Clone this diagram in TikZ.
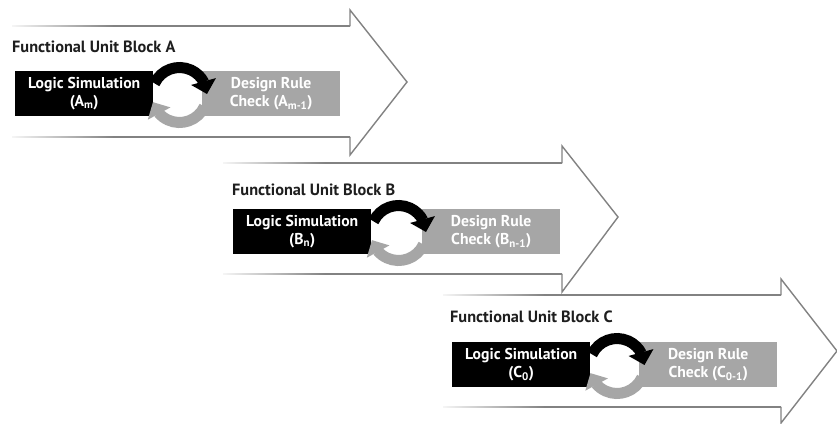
\documentclass[tikz,border=0pt]{standalone}
\usepackage{fontspec}
\setmainfont{PT Sans}
\newfontfamily\dinlike{PT Sans Bold}
\usetikzlibrary{arrows.meta,bending}
\definecolor{linegray}{RGB}{130,130,130}
\definecolor{boxgray}{RGB}{166,166,166}
\definecolor{titlecol}{RGB}{30,30,30}
\pgfdeclarehorizontalshading{fadeline}{100bp}{color(0bp)=(white); color(25bp)=(linegray!8); color(40bp)=(linegray); color(100bp)=(linegray)}
\tikzset{
  headline/.style={draw=linegray, line width=1.4pt, line join=miter},
  shaftline/.style={shading=fadeline},
  lsbox/.style={fill=black, text=white, minimum width=138pt, minimum height=45pt, anchor=north west, align=center, inner sep=0pt, font=\dinlike\fontsize{15.7}{18}\selectfont},
  drcbox/.style={fill=boxgray, text=white, minimum width=138pt, minimum height=45pt, anchor=north west, align=center, inner sep=0pt, font=\dinlike\fontsize{15.7}{18}\selectfont},
  fubtitle/.style={text=titlecol, anchor=base west, inner sep=0pt, font=\dinlike\fontsize{16.3}{18}\selectfont},
  cycblack/.style={draw=black, line width=11pt, -{Triangle[length=13pt, width=25pt, flex]}},
  cycgray/.style={draw=boxgray, line width=11pt, -{Triangle[length=13pt, width=25pt, flex]}},
}
\begin{document}
\begin{tikzpicture}[x=1pt, y=1pt]
\useasboundingbox (0,0) rectangle (837,-423);
\fill[white] (0,0) rectangle (837,-423);

% ---------- Block A ----------
\shade[shaftline] (12,-25.3) rectangle (350,-26.7);
\shade[shaftline] (12,-136.3) rectangle (350,-137.7);
\draw[headline] (350,-26) -- (350,-10) -- (407,-82) -- (350,-155) -- (350,-137);
\node[fubtitle] (tA) at (12,-52) {Functional Unit Block A};
\node[lsbox] (lsA) at (15,-71) {Logic Simulation\\(A\textsubscript{m})};
\node[drcbox] (drA) at (202,-71) {Design Rule\\Check (A\textsubscript{m-1})};
\coordinate (cA) at (179.5,-95);
\draw[cycblack] ([shift={(155:27.5)}]cA) arc[start angle=155, end angle=2, radius=27.5];
\draw[cycgray] ([shift={(-25:27.5)}]cA) arc[start angle=-25, end angle=-165, radius=27.5];

% ---------- Block B ----------
\shade[shaftline] (223,-162.3) rectangle (562,-163.7);
\shade[shaftline] (223,-273.3) rectangle (562,-274.7);
\draw[headline] (562,-163) -- (562,-146) -- (618,-217) -- (562,-292) -- (562,-274);
\node[fubtitle] (tB) at (232,-195) {Functional Unit Block B};
\node[lsbox] (lsB) at (233,-209) {Logic Simulation\\(B\textsubscript{n})};
\node[drcbox] (drB) at (422,-209) {Design Rule\\Check (B\textsubscript{n-1})};
\coordinate (cB) at (398.5,-233);
\draw[cycblack] ([shift={(155:27.5)}]cB) arc[start angle=155, end angle=2, radius=27.5];
\draw[cycgray] ([shift={(-25:27.5)}]cB) arc[start angle=-25, end angle=-165, radius=27.5];

% ---------- Block C ----------
\shade[shaftline] (443,-294.3) rectangle (781,-295.7);
\shade[shaftline] (443,-406.3) rectangle (781,-407.7);
\draw[headline] (781,-295) -- (781,-279) -- (837,-351) -- (781,-423) -- (781,-407);
\node[fubtitle] (tC) at (450,-322) {Functional Unit Block C};
\node[lsbox] (lsC) at (452,-342) {Logic Simulation\\(C\textsubscript{0})};
\node[drcbox] (drC) at (639,-342) {Design Rule\\Check (C\textsubscript{0-1})};
\coordinate (cC) at (617,-366);
\draw[cycblack] ([shift={(155:27.5)}]cC) arc[start angle=155, end angle=2, radius=27.5];
\draw[cycgray] ([shift={(-25:27.5)}]cC) arc[start angle=-25, end angle=-165, radius=27.5];
\end{tikzpicture}
\end{document}
